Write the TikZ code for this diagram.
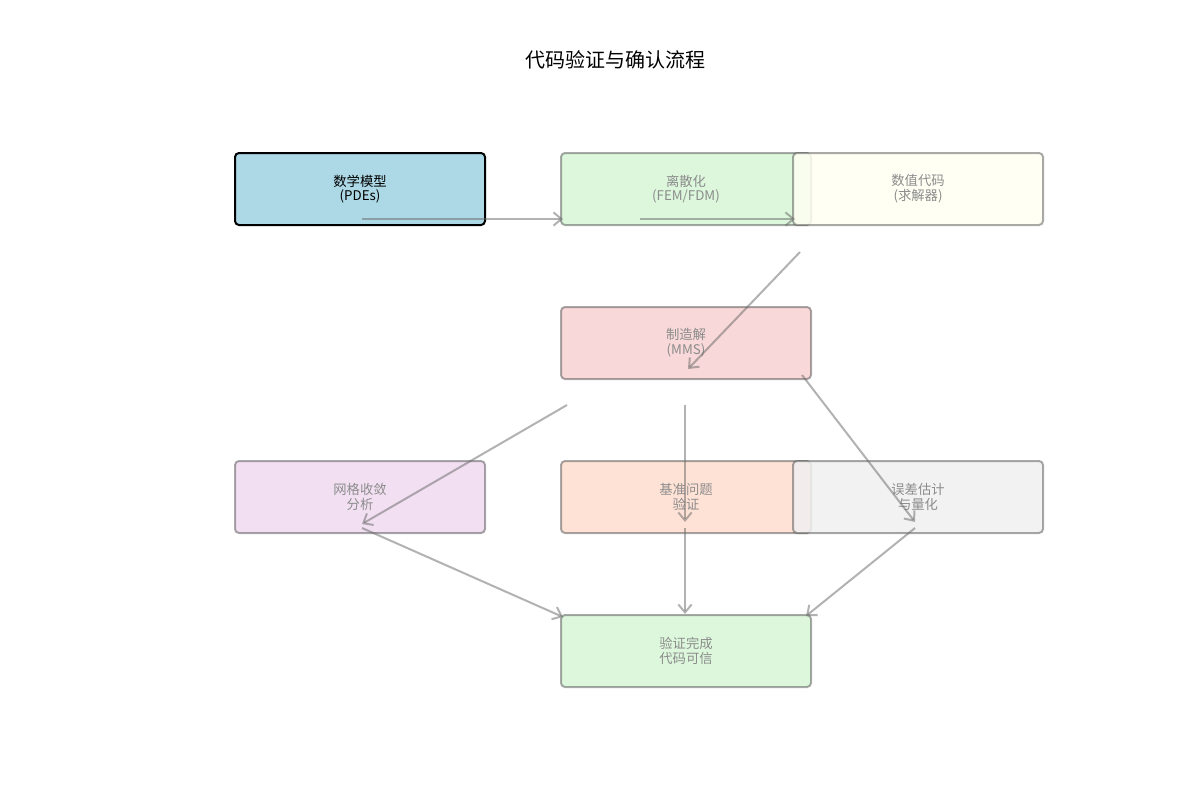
\documentclass[tikz,border=0pt]{standalone}
\usepackage{fontspec}
\setmainfont{Noto Sans CJK SC}
\usetikzlibrary{arrows.meta}
\begin{document}
\begin{tikzpicture}[x=0.75pt,y=-0.75pt,
 box/.style={draw=black!75,draw opacity=0.45,line width=1.5pt,rounded corners=3pt,minimum width=187.5pt,minimum height=54pt,anchor=north west,text=black!45,font=\fontsize{10}{11}\selectfont,align=center,inner sep=0pt},
 arr/.style={draw=black!60,draw opacity=0.5,line width=1.5pt,-{Straight Barb[length=6pt,width=10pt]}}]
\useasboundingbox (0,0) rectangle (1200,800);
\node[font=\fontsize{15}{16}\selectfont] (t) at (615,60) {代码验证与确认流程};
\node[box,fill={rgb,255:red,173;green,216;blue,230},draw=black,draw opacity=1,text=black] (a) at (234,152) {数学模型\\(PDEs)};
\node[box,fill={rgb,255:red,220;green,247;blue,220}] (b) at (560,152) {离散化\\(FEM/FDM)};
\node[box,fill={rgb,255:red,255;green,255;blue,242},fill opacity=0.85,text opacity=1] (c) at (792,152) {数值代码\\(求解器)};
\node[box,fill={rgb,255:red,248;green,216;blue,216}] (d) at (560,306) {制造解\\(MMS)};
\node[box,fill={rgb,255:red,242;green,224;blue,242}] (e) at (234,460) {网格收敛\\分析};
\node[box,fill={rgb,255:red,255;green,226;blue,214}] (f) at (560,460) {基准问题\\验证};
\node[box,fill={rgb,255:red,240;green,240;blue,240},fill opacity=0.85,text opacity=1] (g) at (792,460) {误差估计\\与量化};
\node[box,fill={rgb,255:red,220;green,247;blue,220}] (h) at (560,614) {验证完成\\代码可信};
\coordinate (a1) at (362,219); \coordinate (b0) at (563,219);
\coordinate (b1) at (640,219); \coordinate (c0) at (795,219);
\coordinate (c1) at (800,252); \coordinate (d0) at (688,369);
\coordinate (d1) at (567,405); \coordinate (e0) at (362,524);
\coordinate (d2) at (685,405); \coordinate (f0) at (685,522);
\coordinate (d3) at (802,375); \coordinate (g0) at (915,522);
\coordinate (e1) at (362,528); \coordinate (h1) at (563,617);
\coordinate (f1) at (685,528); \coordinate (h2) at (685,614);
\coordinate (g1) at (915,528); \coordinate (h3) at (806,616);
\draw[arr] (a1)--(b0); \draw[arr] (b1)--(c0); \draw[arr] (c1)--(d0);
\draw[arr] (d1)--(e0); \draw[arr] (d2)--(f0); \draw[arr] (d3)--(g0);
\draw[arr] (e1)--(h1); \draw[arr] (f1)--(h2); \draw[arr] (g1)--(h3);
\end{tikzpicture}
\end{document}
